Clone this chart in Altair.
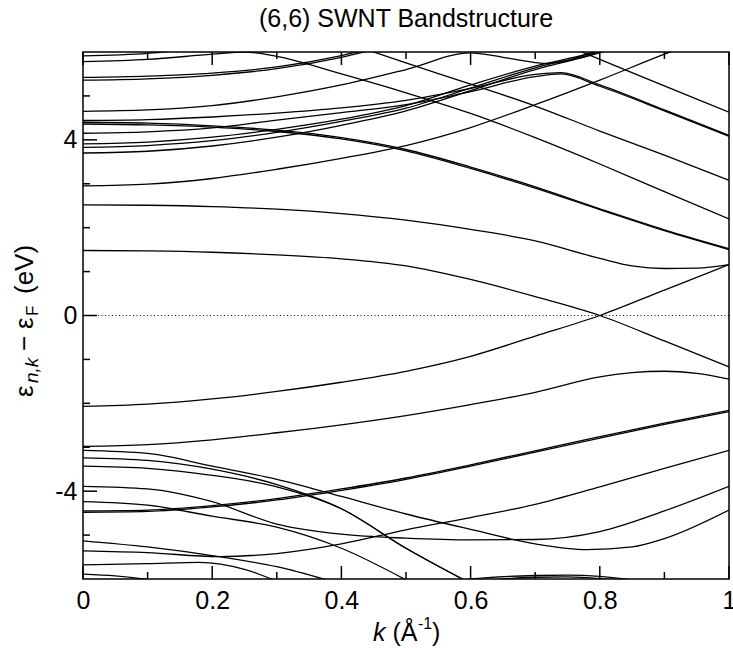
import altair as alt
import pandas as pd

FONT = "Liberation Sans, Arial, Helvetica, sans-serif"
W, H = 646, 527

K10 = [0.0, 0.1, 0.2, 0.3, 0.4, 0.5, 0.6, 0.7, 0.8, 0.9, 1.0]

# ---------------- upper bands ----------------
U1_K = [0.0, 0.1, 0.2]
U1_E = [5.91, 5.97, 6.12]
U2_K = [0.0, 0.1, 0.2, 0.25, 0.3, 0.4, 0.5, 0.6, 0.7, 0.8, 0.9, 1.0]
U2_E = [5.78, 5.83, 5.95, 6.0, 5.9, 5.5, 5.07, 4.6, 4.05, 3.45, 2.82, 2.2]
P_K = [0.0, 0.1, 0.2, 0.3, 0.4, 0.5]
P1_E = [5.42, 5.45, 5.52, 5.66, 5.92, 6.3]
P2_E = [5.36, 5.39, 5.47, 5.62, 5.88, 6.25]
R1_K = [0.0, 0.1, 0.2, 0.3, 0.4, 0.5, 0.6, 0.65, 0.72, 0.78, 0.82]
R1_E = [4.65, 4.68, 4.78, 4.98, 5.25, 5.6, 5.98, 5.88, 5.74, 5.95, 6.2]
T3_K = [0.0, 0.1, 0.2, 0.3, 0.4, 0.5, 0.6, 0.7, 0.74, 0.8, 0.9, 1.0]
R2_E = [4.44, 4.46, 4.52, 4.61, 4.73, 4.9, 5.17, 5.49, 5.53, 5.25, 4.68, 4.1]
R3_E = [4.15, 4.18, 4.27, 4.45, 4.62, 4.8, 5.1, 5.44, 5.5, 5.22, 4.66, 4.08]
R_K = [0.0, 0.1, 0.2, 0.3, 0.4, 0.5, 0.6, 0.7, 0.78, 0.85]
R4_E = [3.91, 3.95, 4.06, 4.24, 4.47, 4.78, 5.25, 5.68, 5.95, 6.25]
R5_E = [3.83, 3.87, 3.98, 4.17, 4.42, 4.72, 5.18, 5.64, 5.92, 6.22]
R6_E = [3.70, 3.74, 3.86, 4.06, 4.33, 4.66, 5.12, 5.6, 5.9, 6.2]
T1_K = [0.4, 0.5, 0.6, 0.7, 0.8, 0.9, 1.0]
T1_E = [6.25, 5.75, 5.27, 4.77, 4.2, 3.65, 3.08]
T2_K = [0.7, 0.8, 0.9, 1.0]
T2_E = [6.45, 5.83, 5.23, 4.63]
D_E = [2.95, 2.99, 3.12, 3.33, 3.58, 3.87, 4.28, 4.8, 5.36, 5.95, 6.5]
D2A_E = [4.40, 4.38, 4.32, 4.22, 4.05, 3.78, 3.38, 2.93, 2.43, 1.95, 1.52]
D2B_E = [4.36, 4.34, 4.29, 4.19, 4.02, 3.75, 3.35, 2.90, 2.41, 1.93, 1.50]
C_K = [0.0, 0.1, 0.2, 0.3, 0.4, 0.5, 0.6, 0.7, 0.8, 0.85, 0.9, 0.95, 1.0]
C_E = [2.52, 2.51, 2.48, 2.42, 2.32, 2.17, 1.96, 1.7, 1.3, 1.13, 1.07, 1.08, 1.16]
PI_DOWN_E = [1.48, 1.47, 1.44, 1.38, 1.29, 1.13, 0.82, 0.43, 0.0, -0.58, -1.17]
PI_UP_E = [-2.07, -2.02, -1.9, -1.73, -1.52, -1.27, -0.93, -0.47, 0.0, 0.58, 1.16]

# ---------------- lower bands ----------------
B1_K = [0.0, 0.1, 0.2, 0.3, 0.4, 0.5, 0.6, 0.7, 0.8, 0.85, 0.9, 0.95, 1.0]
B1_E = [-2.98, -2.94, -2.83, -2.67, -2.49, -2.28, -2.03, -1.75, -1.4, -1.3, -1.27, -1.32, -1.45]
B2_K = [0.0, 0.1, 0.2, 0.3, 0.4, 0.5, 0.6, 0.7, 0.78, 0.85, 0.9, 1.0]
B2_E = [-3.07, -3.14, -3.43, -3.73, -4.12, -4.52, -4.87, -5.2, -5.33, -5.27, -5.08, -4.43]
B34_K = [0.0, 0.1, 0.2, 0.3, 0.4, 0.5, 0.6]
B3_E = [-3.24, -3.3, -3.5, -3.85, -4.4, -5.3, -6.1]
B4_E = [-3.43, -3.48, -3.64, -3.9, -4.4, -5.3, -6.1]
B5_E = [-3.89, -3.95, -4.24, -4.75, -4.98, -5.07, -5.11, -5.1, -4.92, -4.45, -3.89]
B6_K = [0.0, 0.1, 0.2, 0.3, 0.4, 0.5]
B6_E = [-4.24, -4.32, -4.57, -4.82, -5.3, -6.02]
B7A_E = [-4.45, -4.43, -4.33, -4.17, -3.95, -3.7, -3.4, -3.08, -2.76, -2.45, -2.16]
B7B_E = [-4.48, -4.46, -4.36, -4.2, -3.98, -3.73, -3.43, -3.11, -2.79, -2.48, -2.19]
B8_K = [0.0, 0.1, 0.21, 0.3, 0.4]
B8_E = [-5.13, -5.27, -5.49, -5.72, -6.12]
B9_K = [0.0, 0.1, 0.21, 0.3, 0.4, 0.5, 0.6, 0.7, 0.8, 0.9, 1.0]
B9_E = [-5.36, -5.4, -5.49, -5.42, -5.2, -4.88, -4.6, -4.3, -3.9, -3.48, -3.07]
B10_K = [0.0, 0.1, 0.18, 0.25, 0.3]
B10_E = [-5.68, -5.65, -5.62, -5.78, -6.05]
B11_K = [0.0, 0.05, 0.1, 0.15]
B11_E = [-5.89, -5.93, -6.01, -6.12]
BB1_K = [0.55, 0.6, 0.7, 0.75, 0.8, 0.85, 0.9]
BB1_E = [-6.2, -6.0, -5.92, -5.91, -5.94, -6.02, -6.15]
BB2_K = [0.6, 0.65, 0.7, 0.75, 0.8, 0.85]
BB2_E = [-6.1, -6.0, -5.96, -5.95, -5.99, -6.08]

# ---------------- axes ----------------
X_MAJOR = [0.0, 0.2, 0.4, 0.6, 0.8, 1.0]
X_MINOR = [0.1, 0.3, 0.5, 0.7, 0.9]
Y_MAJOR = [-4, 0, 4]
Y_MINOR = [-5, -3, -2, -1, 1, 2, 3, 5]
ZERO = [0]

BANDS = [
    ("U1", U1_K, U1_E), ("U2", U2_K, U2_E), ("P1", P_K, P1_E), ("P2", P_K, P2_E),
    ("R1", R1_K, R1_E), ("R2", T3_K, R2_E), ("R3", T3_K, R3_E),
    ("R4", R_K, R4_E), ("R5", R_K, R5_E), ("R6", R_K, R6_E),
    ("T1", T1_K, T1_E), ("T2", T2_K, T2_E), ("D", K10, D_E),
    ("D2A", K10, D2A_E), ("D2B", K10, D2B_E), ("C", C_K, C_E),
    ("PIDOWN", K10, PI_DOWN_E), ("PIUP", K10, PI_UP_E),
    ("B1", B1_K, B1_E), ("B2", B2_K, B2_E), ("B3", B34_K, B3_E), ("B4", B34_K, B4_E),
    ("B5", K10, B5_E), ("B6", B6_K, B6_E), ("B7A", K10, B7A_E), ("B7B", K10, B7B_E),
    ("B8", B8_K, B8_E), ("B9", B9_K, B9_E), ("B10", B10_K, B10_E), ("B11", B11_K, B11_E),
    ("BB1", BB1_K, BB1_E), ("BB2", BB2_K, BB2_E),
]

rows = []
for name, ks, es in BANDS:
    for k, e in zip(ks, es):
        rows.append({"band": name, "k": k, "e": e})
df = pd.DataFrame(rows)

xs = alt.Scale(domain=[0, 1], nice=False, zero=False)
ys = alt.Scale(domain=[-6, 6], nice=False, zero=False)

X_AXIS = alt.Axis(
    values=X_MAJOR, format="~g", title=None, ticks=False, tickSize=0,
    domain=False, grid=False, labelFontSize=25, labelFont=FONT,
    labelColor="black", labelPadding=9, labelFlush=False)
Y_AXIS = alt.Axis(
    values=Y_MAJOR, labelExpr="'' + datum.value", title=None, ticks=False,
    tickSize=0, domain=False, grid=False, labelFontSize=25, labelFont=FONT,
    labelColor="black", labelPadding=6, labelFlush=False)

lines = alt.Chart(df).mark_line(
    color="black", strokeWidth=1.3, interpolate="monotone", clip=True
).encode(
    x=alt.X("k:Q", scale=xs, axis=X_AXIS),
    y=alt.Y("e:Q", scale=ys, axis=Y_AXIS),
    detail="band:N",
)

zero = alt.Chart(pd.DataFrame({"e": ZERO})).mark_rule(
    color="black", strokeWidth=1, strokeDash=[1, 2.5]
).encode(y=alt.Y("e:Q", scale=ys, axis=Y_AXIS))


def xticks(vals, length, top):
    y0 = 0 if top else H
    y1 = length if top else H - length
    return alt.Chart(pd.DataFrame({"k": vals})).mark_rule(
        color="black", strokeWidth=1.5
    ).encode(x=alt.X("k:Q", scale=xs, axis=X_AXIS), y=alt.value(y0), y2=alt.value(y1))


def yticks(vals, length):
    return alt.Chart(pd.DataFrame({"e": vals})).mark_rule(
        color="black", strokeWidth=1.5
    ).encode(y=alt.Y("e:Q", scale=ys, axis=Y_AXIS), x=alt.value(0), x2=alt.value(length))


ANCHOR = pd.DataFrame({"a": [0]})


def txt(s, x, y, size, style="normal", angle=0, align="left"):
    return alt.Chart(ANCHOR).mark_text(
        text=s, font=FONT, fontSize=size, fontStyle=style, angle=angle,
        align=align, baseline="alphabetic", color="black"
    ).encode(x=alt.value(x), y=alt.value(y))


texts = [
    txt("(6,6) SWNT Bandstructure", 323, -25, 25, align="center"),
    # x title: k (Å^-1)
    txt("k", 290, 589, 25, style="italic"),
    txt("(Å", 309.5, 589, 25),
    txt("-1", 335, 577, 16),
    txt(")", 349, 589, 25),
    # y title: ε_{n,k} − ε_F (eV), rotated
    txt("ε", -50, 345, 26, angle=270),
    txt("n,k", -45, 331, 19, style="italic", angle=270),
    txt("−", -50, 299, 26, angle=270),
    txt("ε", -50, 277, 26, angle=270),
    txt("F", -45, 264, 17, angle=270),
    txt("(eV)", -50, 242, 26, angle=270),
]

chart = alt.layer(
    lines, zero,
    xticks(X_MAJOR, 13, False), xticks(X_MINOR, 7, False),
    xticks(X_MAJOR, 13, True), xticks(X_MINOR, 7, True),
    yticks(Y_MAJOR, 14), yticks(Y_MINOR, 7),
    *texts,
).properties(
    width=W, height=H, autosize="none",
    padding={"left": 83, "top": 52, "right": 4, "bottom": 69},
    background="white",
).configure_view(stroke="black", strokeWidth=1.5)

chart.save("out.html", embed_options={"renderer": "svg", "actions": False})
